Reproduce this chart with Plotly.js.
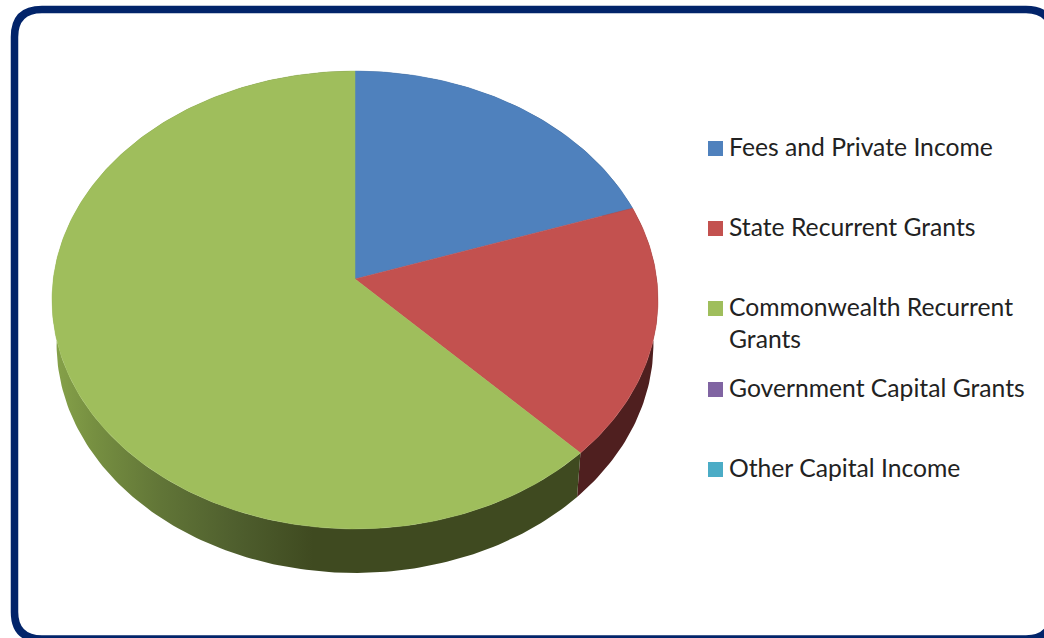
<!DOCTYPE html>
<html>
<head>
<meta charset="utf-8">
<script src="https://cdn.plot.ly/plotly-3.0.1.min.js"></script>
<style>html,body{margin:0;padding:0;background:#fff;overflow:hidden}#chart{width:1044px;height:638px}</style>
</head>
<body>
<div id="chart"></div>
<script>
const categories = ['Fees and Private Income', 'State Recurrent Grants', 'Commonwealth Recurrent Grants', 'Government Capital Grants', 'Other Capital Income'];
const legendLabels = ['Fees and Private Income', 'State Recurrent Grants', 'Commonwealth Recurrent<br>Grants', 'Government Capital Grants', 'Other Capital Income'];
const shares = [19.8, 17.9, 62.3, 0, 0];
const faceColors = ['#4f81bd', '#c3514f', '#9fbe5c', '#8064a2', '#4bacc6'];
const wallColors = ['#2a4565', '#4f1f1f', '#3f4a20', '#44355a', '#286070'];

// Projection of the tilted disc onto the page
const cx = 355, cy = 279, A = 301.7, B = 227, k = 0.0917, depth = 44, wallScale = 0.985;
function project(deg, bottom) {
  const a = deg * Math.PI / 180, w = 1 + k * Math.cos(a), s = bottom ? wallScale : 1;
  return [cx + s * A * Math.sin(a) / w, cy + (bottom ? depth : 0) - B * Math.cos(a) / w];
}
function arc(from, to, bottom) {
  const pts = [], n = Math.max(1, Math.ceil(Math.abs(to - from)));
  for (let i = 0; i <= n; i++) pts.push(project(from + (to - from) * i / n, bottom));
  return pts;
}

const total = shares.reduce((p, c) => p + c, 0);
const walls = [], faces = [];
let start = 0;
categories.forEach((name, i) => {
  const end = start + shares[i] / total * 360;
  if (shares[i] > 0) {
    const wallPts = arc(start, end, false).concat(arc(end, start, true));
    const wall = {
      type: 'scatter', mode: 'lines', name: name + ' side', showlegend: false, hoverinfo: 'skip',
      x: wallPts.map(p => p[0]), y: wallPts.map(p => p[1]),
      fill: 'toself', fillcolor: wallColors[i], line: {width: 0, color: wallColors[i]}
    };
    if (i === 2) {
      wall.fillgradient = {
        type: 'horizontal', start: 52, stop: 660,
        colorscale: [[0, '#87a34a'], [0.07, '#768f41'], [0.18, '#617537'], [0.3, '#4f5f2e'], [0.43, '#3f4a20'], [1, '#3f4a20']]
      };
    }
    walls.push(wall);
    const facePts = [[cx, cy]].concat(arc(start, end, false));
    facePts.push([cx, cy]);
    faces.push({
      type: 'scatter', mode: 'lines', name: name, showlegend: false, hoverinfo: 'name',
      x: facePts.map(p => p[0]), y: facePts.map(p => p[1]),
      fill: 'toself', fillcolor: faceColors[i], line: {width: 0.5, color: faceColors[i]}
    });
  }
  start = end;
});

const legendY = [148.5, 228.5, 308.5, 389.5, 469.5];
const swatches = {
  type: 'scatter', mode: 'markers', showlegend: false, hoverinfo: 'skip',
  x: categories.map(() => 715.5), y: legendY,
  marker: {symbol: 'square', size: 15, color: faceColors, line: {width: 0}}
};
const FONT = {family: 'Lato, sans-serif', size: 24.7, color: '#222222'};
const annotations = legendLabels.map((t, i) => ({
  xref: 'x', yref: 'y', x: 727, y: legendY[i] - 19, text: t, showarrow: false,
  xanchor: 'left', yanchor: 'top', align: 'left', font: FONT
}));

const frame = 'M 14.5 37 Q 14.5 9.5 42 9.5 L 1026 9.5 Q 1053 9.5 1053 37 L 1053 612 Q 1053 639 1026 639 L 42 639 Q 14.5 639 14.5 612 Z';
const layout = {
  width: 1044, height: 638, margin: {l: 0, r: 0, t: 0, b: 0},
  paper_bgcolor: '#ffffff', plot_bgcolor: '#ffffff', showlegend: false,
  xaxis: {range: [0, 1044], visible: false, fixedrange: true},
  yaxis: {range: [638, 0], visible: false, fixedrange: true},
  shapes: [{type: 'path', xref: 'x', yref: 'y', path: frame, layer: 'below', line: {color: '#02246a', width: 7.5}, fillcolor: '#ffffff'}],
  annotations: annotations
};
Plotly.newPlot('chart', walls.concat(faces, [swatches]), layout, {displayModeBar: false, staticPlot: true});
</script>
</body>
</html>
